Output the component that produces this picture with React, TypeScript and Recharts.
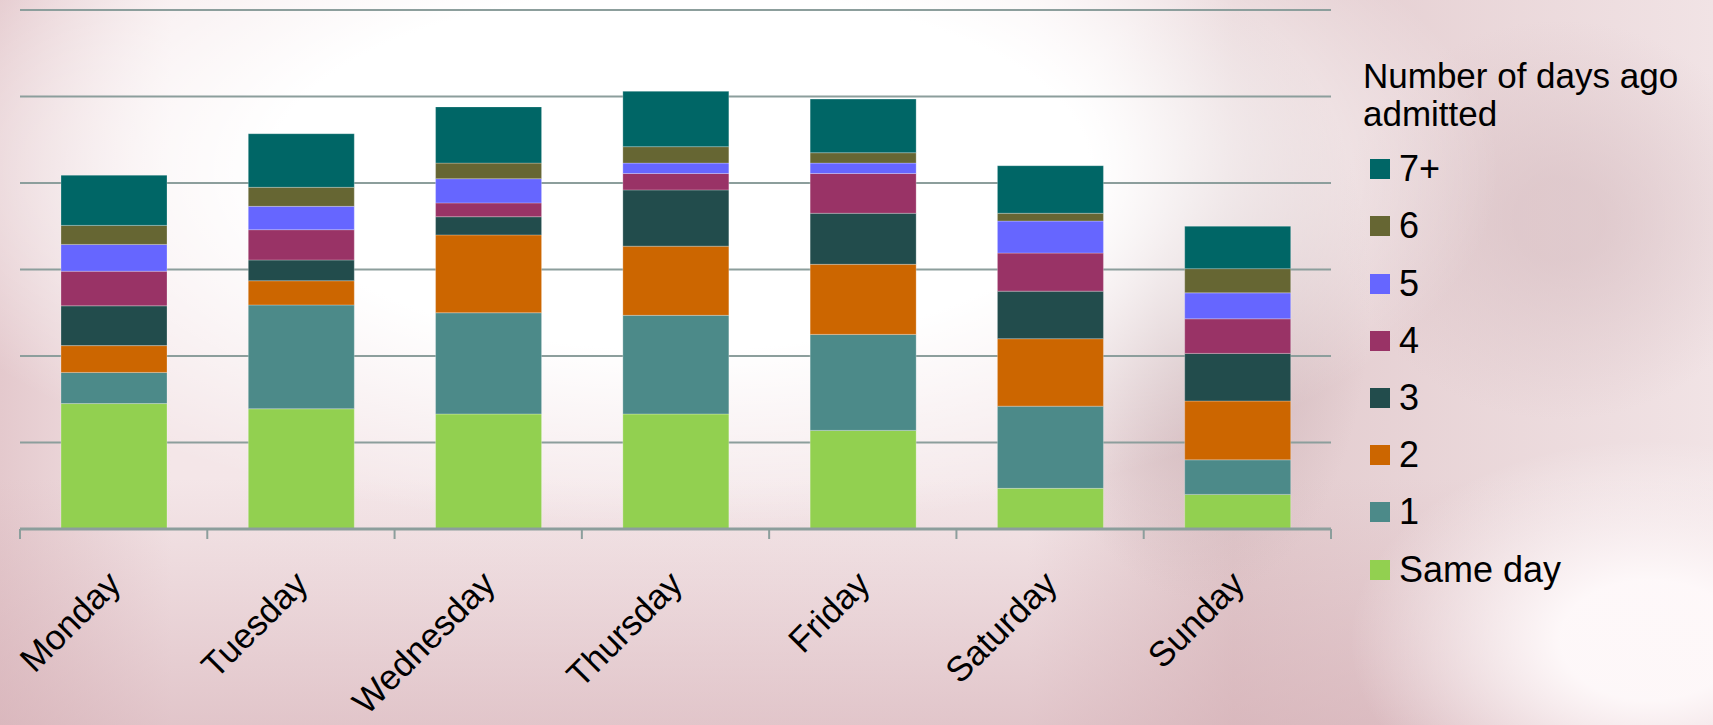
import React from "react";
import { BarChart, Bar, XAxis, YAxis, CartesianGrid } from "recharts";

const days = ["Monday", "Tuesday", "Wednesday", "Thursday", "Friday", "Saturday", "Sunday"];
const sameDay = [14.5, 13.9, 13.3, 13.3, 11.4, 4.7, 4.0];
const oneDay = [3.6, 12.0, 11.7, 11.4, 11.1, 9.5, 4.0];
const twoDays = [3.1, 2.8, 9.0, 8.0, 8.1, 7.8, 6.8];
const threeDays = [4.6, 2.4, 2.1, 6.5, 5.9, 5.5, 5.5];
const fourDays = [4.0, 3.5, 1.6, 1.9, 4.6, 4.4, 4.0];
const fiveDays = [3.1, 2.7, 2.8, 1.2, 1.2, 3.7, 3.0];
const sixDays = [2.2, 2.2, 1.8, 1.9, 1.2, 0.9, 2.8];
const sevenPlus = [5.8, 6.2, 6.5, 6.4, 6.2, 5.5, 4.9];
const yTicks = [0, 10, 20, 30, 40, 50, 60];

const seriesNames = ["Same day", "1", "2", "3", "4", "5", "6", "7+"];
const seriesValues = [sameDay, oneDay, twoDays, threeDays, fourDays, fiveDays, sixDays, sevenPlus];
const seriesColors = ["#92D050", "#4C8A89", "#CC6600", "#224C4C", "#993366", "#6666FF", "#666633", "#006666"];
const legendTitle = ["Number of days ago", "admitted"];

const data = days.map((d, i) => {
  const row: Record<string, string | number> = { day: d };
  seriesNames.forEach((n, k) => {
    row[n] = seriesValues[k][i];
  });
  return row;
});

const W = 1713;
const H = 725;
const M_LEFT = 20;
const M_RIGHT = 382;
const CAT_W = (W - M_LEFT - M_RIGHT) / days.length;
const FONT = "'Liberation Sans', Arial, sans-serif";
const GRID = "#8C9E9C";

const DayTick = (props: any) => {
  const { x, y, payload, index } = props;
  const i = payload && typeof payload.index === "number" ? payload.index : index;
  return (
    <g>
      <line x1={x - CAT_W / 2} y1={y} x2={x - CAT_W / 2} y2={y + 10} stroke={GRID} strokeWidth={2} />
      {i === days.length - 1 && (
        <line x1={x + CAT_W / 2} y1={y} x2={x + CAT_W / 2} y2={y + 10} stroke={GRID} strokeWidth={2} />
      )}
      <g transform={`translate(${x + 9},${y + 57})`}>
        <text textAnchor="end" transform="rotate(-45)" fontFamily={FONT} fontSize={35} fill="#000">
          {payload.value}
        </text>
      </g>
    </g>
  );
};

const LegendBox = () => {
  const order = seriesNames.map((n, k) => ({ name: n, color: seriesColors[k] })).reverse();
  return (
    <div style={{ position: "absolute", left: 1363, top: 0, fontFamily: FONT, color: "#000" }}>
      <div style={{ position: "absolute", top: 57, left: 0, whiteSpace: "nowrap", fontSize: 35, lineHeight: "38px" }}>
        {legendTitle[0]}
        <br />
        {legendTitle[1]}
      </div>
      {order.map((it, k) => (
        <div
          key={it.name}
          style={{
            position: "absolute",
            left: 7,
            top: 140.7 + k * 57.2,
            height: 57.2,
            display: "flex",
            alignItems: "center",
            whiteSpace: "nowrap",
          }}
        >
          <div style={{ width: 20, height: 20, background: it.color, marginRight: 9 }} />
          <span style={{ fontSize: 36 }}>{it.name}</span>
        </div>
      ))}
    </div>
  );
};

const bg = [
  "radial-gradient(ellipse 820px 360px at 680px 170px, rgba(255,255,255,1) 50%, rgba(255,255,255,0) 100%)",
  "radial-gradient(ellipse 300px 200px at 1650px 640px, rgba(255,250,251,0.95) 30%, rgba(255,250,251,0) 100%)",
  "radial-gradient(ellipse 170px 300px at 1200px 300px, rgba(205,180,184,0.8) 25%, rgba(205,180,184,0) 100%)",
  "radial-gradient(ellipse 220px 200px at 1560px 220px, rgba(215,190,194,0.6) 20%, rgba(215,190,194,0) 100%)",
  "linear-gradient(180deg, rgba(255,255,255,0) 66%, rgba(210,170,177,0.55) 100%)",
  "linear-gradient(90deg, #E4C9CD 0%, #F4E6E8 10%, #F4E7E9 60%, #E2CACD 72%, #F1E3E5 100%)",
].join(",");

export default function App() {
  return (
    <div style={{ position: "absolute", left: 0, top: 0, width: W, height: H, background: bg }}>
      <BarChart
        width={W}
        height={H}
        data={data}
        margin={{ top: 10, right: M_RIGHT, left: M_LEFT, bottom: 0 }}
        barSize={106}
      >
        <CartesianGrid vertical={false} stroke={GRID} strokeWidth={2} />
        <YAxis hide domain={[0, 60]} ticks={yTicks} width={0} />
        <XAxis
          dataKey="day"
          height={196}
          interval={0}
          axisLine={{ stroke: GRID, strokeWidth: 3 }}
          tickLine={false}
          tickSize={0}
          tickMargin={0}
          tick={<DayTick />}
        />
        {seriesNames.map((n, k) => (
          <Bar
            key={n}
            dataKey={n}
            stackId="a"
            fill={seriesColors[k]}
            stroke="rgba(255,255,255,0.25)"
            strokeWidth={1}
            isAnimationActive={false}
          />
        ))}
      </BarChart>
      <LegendBox />
    </div>
  );
}
